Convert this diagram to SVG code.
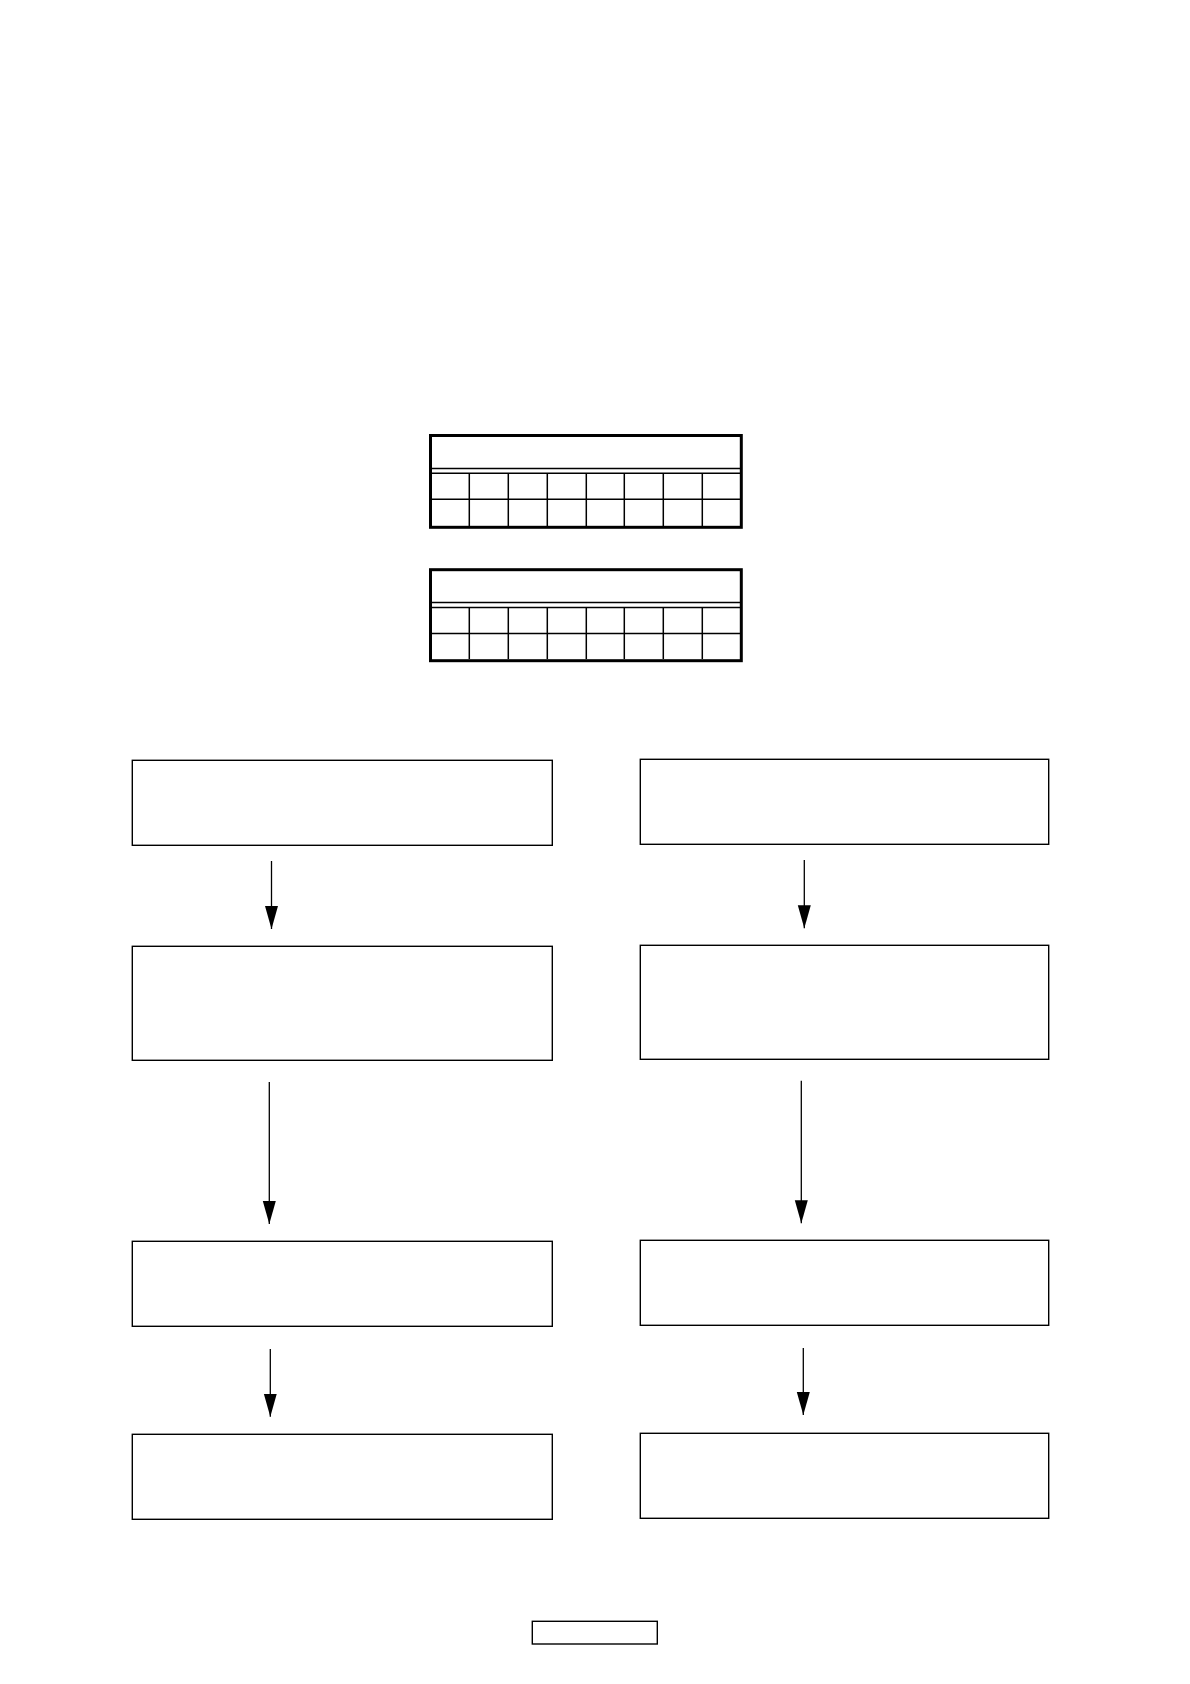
<svg xmlns="http://www.w3.org/2000/svg" width="1190" height="1684" viewBox="0 0 1190 1684">
<style>
.box{fill:#fff;stroke:#000;stroke-width:1.4}
.tbl{fill:#fff;stroke:#000;stroke-width:3}
.grid{stroke:#000;stroke-width:1.5;fill:none}
.conn{stroke:#000;stroke-width:1.3;fill:none;marker-end:url(#ah)}
</style>
<defs>
<marker id="ah" markerUnits="userSpaceOnUse" markerWidth="24" markerHeight="14" refX="23" refY="6.5" orient="auto">
<path d="M0,0 L23,6.5 L0,13 z" fill="#000"/>
</marker>
</defs>
<rect width="1190" height="1684" fill="#fff"/>
<g id="table1">
<rect class="tbl" x="430.5" y="435.5" width="310.8" height="91.8"/>
<path class="grid" d="M432,468.5 H740 M432,473.3 H740 M432,499.3 H740 M469.3,473.3 V526 M508.3,473.3 V526 M547.3,473.3 V526 M586.3,473.3 V526 M624.3,473.3 V526 M663.3,473.3 V526 M702.3,473.3 V526"/>
</g>
<g id="table2">
<rect class="tbl" x="430.5" y="569.7" width="310.8" height="91"/>
<path class="grid" d="M432,602.5 H740 M432,607.5 H740 M432,633.5 H740 M469.3,607.5 V659 M508.3,607.5 V659 M547.3,607.5 V659 M586.3,607.5 V659 M624.3,607.5 V659 M663.3,607.5 V659 M702.3,607.5 V659"/>
</g>
<g id="L1"><rect class="box" x="132.3" y="760.3" width="420" height="85"/></g>
<g id="L2"><rect class="box" x="132.3" y="946.3" width="420" height="114"/></g>
<g id="L3"><rect class="box" x="132.3" y="1241.3" width="420" height="85"/></g>
<g id="L4"><rect class="box" x="132.3" y="1434.3" width="420" height="85"/></g>
<g id="R1"><rect class="box" x="640.3" y="759.3" width="408.4" height="85"/></g>
<g id="R2"><rect class="box" x="640.3" y="945.3" width="408.4" height="114"/></g>
<g id="R3"><rect class="box" x="640.3" y="1240.3" width="408.4" height="85"/></g>
<g id="R4"><rect class="box" x="640.3" y="1433.3" width="408.4" height="85"/></g>
<g id="footer"><rect class="box" x="532.3" y="1621.3" width="125" height="22.7"/></g>
<g id="connectors">
<line class="conn" x1="271.5" y1="861" x2="271.5" y2="929"/>
<line class="conn" x1="804.3" y1="860" x2="804.3" y2="928.3"/>
<line class="conn" x1="269.3" y1="1082" x2="269.3" y2="1224"/>
<line class="conn" x1="801.3" y1="1080.7" x2="801.3" y2="1223.3"/>
<line class="conn" x1="270.3" y1="1349" x2="270.3" y2="1416.7"/>
<line class="conn" x1="803.3" y1="1348" x2="803.3" y2="1415"/>
</g>
</svg>
